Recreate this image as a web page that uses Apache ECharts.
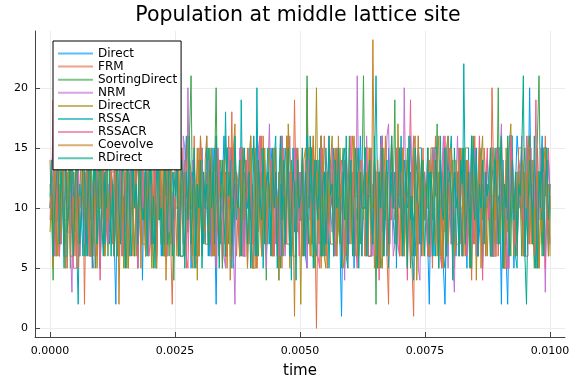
<!DOCTYPE html>
<html>
<head>
<meta charset="utf-8">
<script src="https://cdn.jsdelivr.net/npm/echarts@6/dist/echarts.min.js"></script>
<style>html,body{margin:0;padding:0;background:#fff}#c{width:576px;height:384px}</style>
</head>
<body>
<div id="c"></div>
<script>
const seriesNames = ["Direct","FRM","SortingDirect","NRM","DirectCR","RSSA","RSSACR","Coevolve","RDirect"];
const seriesColors = ["#009AFA","#E36F47","#3EA44E","#C371D2","#AC8E18","#00AAAE","#ED5E93","#C68225","#00A98D"];
const xTicks = [0, 0.0025, 0.005, 0.0075, 0.01];
const xTickLabels = ["0.0000","0.0025","0.0050","0.0075","0.0100"];
const yTicks = [0, 5, 10, 15, 20];
const tEnd = 0.01;

const direct = [
10,12,9,14,6,13,11,7,15,10,5,12,9,11,16,8,10,14,11,6,
9,13,7,11,15,10,6,9,12,14,10,11,5,10,13,7,16,11,8,10,
11,7,2,12,10,15,13,6,9,10,14,7,12,16,10,11,6,9,13,4,
12,6,11,15,14,9,7,12,5,13,10,6,9,15,11,14,10,7,13,11,
10,14,6,9,11,7,13,16,8,12,5,11,14,10,12,6,11,15,10,7,
13,11,6,10,15,9,2,11,14,7,12,16,9,6,13,10,15,5,11,12,
10,6,12,14,7,13,10,15,9,5,8,12,16,13,11,6,9,14,10,7,
11,15,13,6,12,9,4,10,16,12,7,11,14,10,6,11,8,15,12,10,
9,14,12,6,5,13,11,7,15,10,14,8,11,16,6,10,13,7,11,12,
12,6,9,15,11,7,1,10,14,11,6,15,10,12,5,11,13,9,16,12,
11,13,7,9,15,6,11,14,10,5,9,16,8,13,10,6,15,9,12,10,
10,5,12,15,13,7,10,14,6,11,16,10,9,6,11,15,13,7,11,9,
12,7,2,11,15,13,6,12,8,14,10,5,2,9,16,11,7,10,13,6,
10,15,9,6,14,10,5,12,11,16,7,10,15,6,8,12,14,9,13,11,
11,6,12,15,13,7,11,10,2,14,9,6,2,10,15,11,5,12,16,14,
10,12,6,8,15,10,20,11,7,14,10,5,11,13,16,9,6,11,14,10];
const frm = [
14,9,11,6,15,10,12,7,10,16,13,5,11,9,14,10,6,12,15,8,
10,13,2,11,7,15,9,12,6,10,14,11,5,13,10,7,16,9,12,11,
7,14,10,6,12,15,9,11,5,10,13,7,15,10,6,12,14,9,11,17,
10,6,13,11,15,7,10,12,5,14,9,11,16,10,6,13,12,7,2,10,
11,15,9,6,12,10,14,5,11,13,7,10,16,9,12,6,11,14,10,8,
13,7,10,15,9,11,6,12,14,10,5,11,13,7,16,10,18,9,12,6,
10,14,11,6,13,9,15,7,11,12,5,10,14,8,11,16,9,13,6,10,
12,6,11,15,10,7,13,9,5,14,11,10,16,6,12,10,19,11,8,13,
9,15,11,6,20,10,12,7,13,9,0,11,14,6,10,16,12,5,11,10,
13,7,10,15,9,12,6,11,14,10,5,13,11,7,16,10,9,14,11,6,
11,14,10,6,15,9,12,5,10,13,7,11,16,9,12,6,2,14,10,11,
9,13,11,6,15,10,7,12,14,9,11,5,1,13,10,16,7,11,15,9,
10,6,14,11,5,12,16,9,13,7,11,15,10,6,12,9,14,11,5,13,
11,15,7,10,13,6,12,14,9,4,11,16,10,7,13,11,6,15,12,10,
11,7,20,13,6,10,15,9,12,5,11,14,10,7,16,11,9,13,6,12,
10,14,11,6,13,9,16,7,12,10,5,15,11,13,7,10,16,9,12,10];
const sortingDirect = [
11,10,4,13,9,15,6,11,14,10,7,16,12,5,10,13,9,15,7,11,
10,13,6,11,15,8,17,10,14,5,11,13,7,10,16,9,11,6,14,10,
9,11,15,6,12,10,14,7,11,5,13,10,16,9,6,12,15,11,7,10,
12,6,10,14,13,11,5,10,16,9,14,7,11,8,15,10,6,13,11,4,
11,14,9,6,15,10,13,7,11,16,21,9,12,5,10,14,11,6,13,10,
10,15,7,11,6,13,20,9,12,14,5,10,16,11,7,13,10,6,15,11,
12,6,11,15,9,13,5,10,16,7,11,14,10,6,12,15,9,11,4,13,
10,14,6,11,15,9,12,5,13,10,7,16,11,6,14,10,12,7,15,11,
9,13,11,6,21,10,15,7,12,5,11,14,10,16,6,11,13,9,15,10,
11,6,14,10,13,7,12,15,5,11,10,16,9,13,6,11,15,10,7,12,
21,10,13,6,15,11,7,12,2,14,10,5,16,11,9,13,6,10,15,11,
19,7,11,14,9,13,6,10,15,11,5,12,16,10,7,13,11,6,14,10,
10,15,6,12,9,14,11,17,5,10,13,7,11,15,6,12,10,14,8,11,
13,6,11,15,10,7,14,9,12,5,16,11,10,6,13,15,9,11,7,12,
9,14,11,6,15,10,20,7,12,13,5,11,16,10,6,14,11,9,13,10,
11,6,13,15,10,7,12,14,9,5,11,16,21,10,6,13,11,15,7,12];
const nrm = [
9,13,12,6,10,15,6,11,13,10,11,16,16,7,3,12,10,14,15,6,
11,9,7,13,10,15,13,6,5,11,11,14,16,9,10,6,8,12,11,15,
10,6,13,11,6,15,11,9,8,13,15,6,17,11,10,14,5,12,11,7,
13,10,7,15,10,6,16,11,9,13,14,10,11,6,6,15,8,12,12,9,
11,14,6,10,10,16,15,7,20,11,10,14,13,6,5,12,11,15,8,10,
16,11,10,6,7,13,11,15,13,9,10,6,5,14,15,11,11,7,2,13,
10,15,15,6,6,11,11,14,13,7,8,10,10,15,16,6,11,12,5,13,
17,10,10,14,7,11,12,6,11,15,6,10,13,16,10,7,15,11,9,13,
11,6,10,14,5,15,15,10,9,7,13,11,7,16,10,13,6,11,16,10,
8,14,11,6,14,12,10,9,4,15,12,7,11,13,10,6,21,11,9,14,
10,6,16,11,11,15,6,10,13,7,10,14,5,11,12,16,17,10,11,6,
7,13,10,15,15,6,20,11,11,9,6,14,13,10,10,5,4,13,12,9,
11,15,6,10,10,13,15,7,8,11,13,16,11,10,5,14,9,6,3,12,
16,10,10,7,11,14,7,11,13,9,9,15,10,6,15,11,11,13,6,10,
10,15,15,6,9,11,11,14,17,9,10,13,5,10,12,15,11,6,7,10,
13,16,10,6,16,11,8,13,11,7,6,10,9,15,15,11,3,12,10,7];
const directCR = [
8,11,5,13,11,6,10,15,15,9,9,12,13,6,6,11,8,14,11,10,
16,10,9,13,10,6,14,11,7,15,5,10,10,14,15,6,9,11,11,13,
13,7,10,15,6,11,12,5,11,14,5,10,10,15,16,6,9,13,11,7,
7,16,15,11,8,5,11,13,6,10,13,16,10,6,17,11,11,14,9,10,
10,15,15,6,6,13,11,10,8,14,13,6,10,11,4,15,12,9,9,14,
16,10,8,13,12,6,11,15,6,11,13,7,10,15,15,6,7,11,11,13,
12,7,6,15,11,10,10,13,16,5,5,12,11,14,12,6,7,15,9,11,
15,10,13,6,10,11,4,15,12,10,11,7,17,14,10,6,6,11,12,10,
2,13,11,7,10,15,15,6,6,11,20,10,10,16,13,6,5,11,9,14,
16,10,10,7,8,15,11,13,13,6,7,12,9,16,15,11,11,6,10,13,
9,15,15,6,6,11,10,14,8,11,13,6,5,15,12,9,9,13,16,10,
10,6,17,11,12,15,6,10,11,13,10,6,15,16,4,10,11,14,12,9,
10,13,6,15,15,11,11,6,13,10,5,12,8,15,16,10,11,7,7,14,
10,13,13,6,11,15,15,10,6,11,10,13,4,11,11,14,16,9,10,6,
11,6,15,13,7,10,10,14,13,5,5,12,8,15,17,10,10,7,6,13,
11,14,13,6,10,15,16,11,7,10,11,13,5,10,8,14,15,11,11,6];
const rssa = [
10,13,15,9,9,11,11,14,13,6,6,10,10,15,16,11,11,7,2,12,
10,6,13,11,6,15,11,9,15,12,10,14,5,11,14,7,11,10,7,13,
12,6,10,15,16,11,6,10,11,13,8,6,15,11,10,14,5,12,14,10,
9,15,10,6,17,11,11,13,6,15,13,10,10,7,7,11,15,12,11,9,
10,14,13,6,6,11,11,15,16,10,10,13,5,11,12,7,11,14,7,10,
15,11,10,6,12,15,11,9,6,13,10,11,18,10,11,14,5,11,12,9,
11,6,19,10,6,14,12,11,9,15,13,6,20,10,11,13,5,10,12,15,
7,10,11,14,16,6,10,12,6,11,15,13,11,10,4,15,10,12,13,9,
9,13,11,6,16,11,10,15,13,7,6,11,11,14,10,6,15,12,5,10,
11,15,13,7,11,10,10,14,15,6,5,12,13,11,7,10,9,15,11,6,
12,15,6,11,11,6,9,13,21,11,10,14,15,6,11,12,5,10,13,9,
7,15,11,10,16,6,9,13,10,11,13,6,4,12,10,15,15,7,9,13,
11,6,13,10,6,15,15,11,9,13,11,6,5,10,13,14,16,11,7,10,
11,13,10,6,22,11,11,15,6,10,15,13,10,6,13,12,5,11,10,14,
12,6,6,11,11,15,15,10,13,7,7,11,9,16,16,10,10,6,5,13,
13,10,10,6,9,15,16,11,10,7,5,13,13,10,9,15,15,11,6,10];
const rssacr = [
12,10,19,7,9,15,6,11,10,13,15,8,8,11,12,5,5,13,9,11,
10,16,16,10,11,6,6,12,12,15,10,9,4,11,13,14,11,7,10,13,
9,6,15,11,11,14,6,10,13,8,8,11,11,16,16,9,5,10,10,14,
14,11,11,6,7,12,10,15,6,11,15,10,10,13,6,11,15,12,11,7,
11,15,6,10,15,13,10,6,5,11,13,12,11,7,7,10,16,13,9,11,
11,14,14,6,10,11,5,15,12,10,11,6,6,11,10,15,15,10,11,13,
10,6,15,11,6,14,11,10,13,7,10,15,5,11,16,12,11,9,7,10,
10,14,13,6,11,10,6,15,16,11,11,7,7,13,10,11,13,15,11,6,
13,10,6,11,11,14,9,12,16,10,10,6,5,15,11,13,13,7,9,11,
15,10,6,11,11,13,14,10,6,8,8,12,16,11,11,7,5,13,10,11,
11,14,15,6,6,10,10,13,13,11,4,15,16,10,10,7,7,11,9,13,
10,15,7,6,13,11,11,10,4,12,19,10,16,11,10,7,9,13,13,11,
10,6,6,11,15,13,13,10,10,6,5,12,16,11,11,15,7,10,10,13,
13,6,15,11,11,10,6,14,10,13,7,11,6,12,16,10,4,11,12,15,
9,11,11,6,6,15,8,10,13,11,11,5,5,10,16,13,10,7,11,14,
13,9,10,6,6,15,15,11,13,10,19,7,10,11,11,13,5,10,15,11];
const coevolve = [
10,13,7,15,6,11,14,8,16,10,5,13,11,15,9,6,13,10,5,11,
11,16,10,7,13,15,6,11,9,14,6,13,10,16,7,11,15,9,12,13,
9,6,11,15,2,10,13,7,15,11,5,13,10,6,16,11,9,14,5,16,
16,6,11,13,10,7,15,9,5,12,15,11,6,14,4,10,13,7,15,17,
11,6,14,10,15,9,6,13,16,11,7,5,12,10,15,6,16,11,9,7,
7,13,10,15,6,11,16,9,6,12,11,14,10,5,13,4,12,15,17,10,
10,6,14,9,15,11,5,13,16,10,7,15,5,11,13,6,16,10,7,12,
10,13,6,15,11,7,10,14,15,6,8,16,11,5,13,10,1,12,15,11,
11,6,14,15,10,9,6,12,16,11,13,7,10,5,15,12,6,13,10,7,
7,11,15,6,16,10,12,5,6,14,9,13,7,10,15,11,6,12,14,10,
10,6,13,12,15,7,24,11,6,14,5,13,10,8,16,11,6,12,15,10,
10,7,15,13,6,15,11,10,5,14,6,8,15,11,7,16,10,13,6,12,
12,15,6,11,14,10,7,13,16,6,10,5,14,11,7,10,15,12,6,7,
7,13,15,11,6,10,14,8,5,16,11,7,13,10,15,5,12,10,6,11,
11,15,6,12,9,14,6,13,16,10,5,15,12,7,10,14,6,11,7,15,
15,9,6,13,10,16,7,11,14,6,12,13,5,10,15,7,13,11,6,11];
const rDirect = [
11,14,6,10,12,15,7,13,11,5,15,8,10,16,9,6,12,14,10,7,
10,15,13,6,11,16,10,5,12,14,7,11,15,9,6,13,10,17,12,6,
12,6,11,15,10,7,14,13,5,11,16,9,6,14,10,12,7,15,11,9,
10,14,6,12,15,7,11,5,13,16,9,10,6,14,12,7,15,11,6,13,
11,15,6,10,14,12,5,13,9,16,7,11,15,6,12,10,14,5,13,10,
12,6,15,10,13,7,16,11,5,12,14,9,6,15,11,13,7,10,16,11,
10,14,6,12,15,11,7,13,5,10,16,12,6,14,11,9,15,7,12,13,
11,6,15,10,13,5,12,16,9,14,7,11,15,6,10,13,12,4,14,10,
11,15,6,13,10,7,16,12,5,14,11,9,15,6,12,13,7,10,16,11,
12,6,14,10,15,11,5,13,9,16,7,12,14,6,10,15,11,5,13,10,
10,15,6,12,14,9,7,16,11,5,13,10,15,6,12,14,7,11,16,10,
13,6,11,15,10,7,14,12,5,16,9,11,6,15,13,10,7,14,12,6,
10,15,7,13,11,6,14,12,5,16,10,9,15,6,12,13,11,4,15,10,
11,6,14,12,15,7,10,13,5,16,11,9,15,6,12,10,14,7,13,11,
12,15,6,10,14,11,7,13,16,5,12,10,15,6,11,14,9,13,7,12,
11,15,21,6,2,10,14,12,7,16,11,5,13,10,15,6,12,14,9,12];

const allValues = [direct, frm, sortingDirect, nrm, directCR, rssa, rssacr, coevolve, rDirect];

const chart = echarts.init(document.getElementById('c'), null, {renderer: 'canvas'});
const font = 'DejaVu Sans';
chart.setOption({
  animation: false,
  backgroundColor: '#ffffff',
  title: {
    text: 'Population at middle lattice site',
    left: 293, top: 0, textAlign: 'center',
    textStyle: {fontFamily: font, fontSize: 20.5, fontWeight: 'normal', color: '#000'}
  },
  grid: {left: 35, right: 11, top: 31, bottom: 44},
  xAxis: {
    type: 'value', min: -0.0003, max: 0.0103,
    name: 'time', nameLocation: 'middle', nameGap: 27,
    nameTextStyle: {fontFamily: font, fontSize: 15, color: '#000'},
    axisLine: {show: true, onZero: false, lineStyle: {color: '#444', width: 1}},
    axisTick: {show: true, inside: true, length: 5, customValues: xTicks, lineStyle: {color: '#444'}},
    axisLabel: {customValues: xTicks, fontFamily: font, fontSize: 11, color: '#000', margin: 9,
      formatter: v => xTickLabels[xTicks.findIndex(t => Math.abs(t - v) < 1e-9)]},
    splitLine: {show: true, lineStyle: {color: '#ececec', width: 1}}
  },
  yAxis: {
    type: 'value', min: -0.72, max: 24.72,
    axisLine: {show: true, onZero: false, lineStyle: {color: '#444', width: 1}},
    axisTick: {show: true, inside: true, length: 5, customValues: yTicks, lineStyle: {color: '#444'}},
    axisLabel: {customValues: yTicks, fontFamily: font, fontSize: 11, color: '#000', margin: 7},
    splitLine: {show: true, lineStyle: {color: '#ececec', width: 1}}
  },
  legend: {
    orient: 'vertical', left: 53, top: 41, z: 50, zlevel: 1,
    padding: [6, 4, 5, 5],
    itemWidth: 35, itemHeight: 2, itemGap: 0.1,
    icon: 'rect',
    backgroundColor: '#fff', borderColor: '#000', borderWidth: 1, borderRadius: 0,
    textStyle: {fontFamily: font, fontSize: 12, lineHeight: 13, color: '#000'},
    data: seriesNames.map((n, k) => ({name: n, itemStyle: {color: seriesColors[k], opacity: 0.65}}))
  },
  series: seriesNames.map((n, k) => ({
    name: n, type: 'line', step: 'end', symbol: 'none', showSymbol: false,
    sampling: null, z: 2 + k,
    color: seriesColors[k],
    lineStyle: {width: 1, color: seriesColors[k]},
    data: allValues[k].map((v, i) => [i * tEnd / (allValues[k].length - 1), v])
  }))
});
</script>
</body>
</html>
